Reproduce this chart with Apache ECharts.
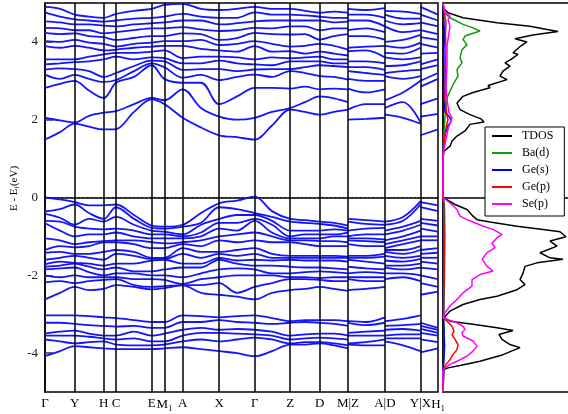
<!DOCTYPE html>
<html>
<head>
<meta charset="utf-8">
<script src="https://cdn.jsdelivr.net/npm/echarts@6/dist/echarts.min.js"></script>
<style>
  html, body { margin: 0; padding: 0; background: #fff; }
  #chart { width: 568px; height: 414px; }
</style>
</head>
<body>
<div id="chart"></div>
<script>
// k-path distance (arbitrary units), duplicated where the path breaks
const kDist = [0, 15, 29.7, 44, 58.7, 71, 89, 106.7, 119.4, 137.7, 156, 174.2, 192, 209.7, 227,
  245.2, 260, 274.7, 289, 303, 303, 321, 339.9, 339.9, 358, 375.5, 375.5, 393];
const segments = [[0, 19], [20, 22], [23, 25], [26, 27]];
const kTickPos = [0, 29.7, 58.7, 71, 106.7, 119.4, 137.7, 174.2, 209.7, 245.2, 274.7, 303, 339.9, 375.5, 393];
const kTickLabels = ['Γ', 'Y', 'H', 'C', 'E', 'M1', 'A', 'X', 'Γ', 'Z', 'D', 'M|Z', 'A|D', 'Y|X', 'H1'];
const eTicks = [-4, -2, 0, 2, 4];

// band energies (eV) at each k point, sorted
const condAtK = [
  [1.49, 2.05, 2.82, 3.16, 3.29, 3.42, 3.55, 3.89, 4.02, 4.23, 4.36, 4.53, 4.76, 4.90],
  [1.68, 1.98, 2.92, 3.05, 3.32, 3.45, 3.55, 3.85, 4.00, 4.20, 4.35, 4.50, 4.65, 4.85],
  [1.90, 1.93, 3.00, 3.15, 3.30, 3.48, 3.55, 3.90, 4.05, 4.22, 4.30, 4.45, 4.58, 4.70],
  [1.82, 2.10, 2.75, 3.05, 3.25, 3.50, 3.62, 3.85, 3.98, 4.15, 4.30, 4.45, 4.55, 4.65],
  [1.75, 2.18, 2.56, 2.97, 3.10, 3.55, 3.68, 3.78, 3.95, 4.12, 4.22, 4.42, 4.52, 4.62],
  [1.76, 2.22, 2.95, 3.02, 3.20, 3.62, 3.72, 3.80, 3.88, 4.05, 4.25, 4.40, 4.55, 4.72],
  [2.20, 2.40, 3.10, 3.25, 3.38, 3.55, 3.72, 3.85, 3.95, 4.10, 4.30, 4.45, 4.60, 4.80],
  [2.52, 2.56, 3.40, 3.45, 3.52, 3.60, 3.75, 3.88, 3.98, 4.15, 4.35, 4.48, 4.62, 4.85],
  [2.40, 2.50, 3.05, 3.35, 3.50, 3.58, 3.78, 3.90, 4.02, 4.15, 4.35, 4.50, 4.65, 4.95],
  [2.05, 2.78, 2.95, 3.08, 3.28, 3.45, 3.58, 3.90, 4.02, 4.22, 4.38, 4.55, 4.72, 4.98],
  [1.80, 2.30, 2.95, 3.15, 3.30, 3.45, 3.62, 3.82, 4.05, 4.20, 4.32, 4.55, 4.65, 4.85],
  [1.60, 2.08, 2.40, 3.02, 3.30, 3.52, 3.62, 3.78, 3.92, 4.05, 4.28, 4.45, 4.62, 4.82],
  [1.55, 2.00, 2.60, 3.10, 3.25, 3.45, 3.60, 3.75, 3.95, 4.10, 4.30, 4.48, 4.62, 4.85],
  [1.49, 2.05, 2.82, 3.16, 3.29, 3.42, 3.55, 3.89, 4.02, 4.23, 4.36, 4.53, 4.76, 4.90],
  [1.85, 2.20, 2.82, 3.10, 3.30, 3.40, 3.60, 3.75, 3.95, 4.20, 4.35, 4.55, 4.70, 4.85],
  [2.26, 2.30, 2.80, 3.25, 3.30, 3.50, 3.58, 3.76, 3.88, 4.19, 4.40, 4.55, 4.70, 4.85],
  [2.20, 2.45, 2.85, 3.20, 3.35, 3.50, 3.60, 3.70, 3.90, 4.20, 4.40, 4.55, 4.68, 4.80],
  [2.13, 2.60, 2.78, 3.12, 3.40, 3.50, 3.62, 3.75, 3.95, 4.06, 4.30, 4.55, 4.65, 4.75],
  [2.20, 2.55, 2.80, 3.10, 3.38, 3.45, 3.55, 3.70, 3.90, 4.15, 4.35, 4.50, 4.62, 4.78],
  [2.26, 2.45, 2.78, 3.03, 3.35, 3.45, 3.55, 3.65, 3.80, 4.20, 4.35, 4.52, 4.62, 4.75],
  [2.00, 2.26, 2.80, 3.05, 3.25, 3.35, 3.50, 3.76, 3.85, 4.15, 4.30, 4.55, 4.70, 4.85],
  [2.02, 2.40, 2.70, 3.00, 3.20, 3.35, 3.50, 3.78, 3.88, 4.15, 4.35, 4.55, 4.70, 4.82],
  [2.05, 2.40, 2.78, 3.00, 3.15, 3.28, 3.45, 3.60, 3.90, 4.06, 4.25, 4.40, 4.62, 4.87],
  [2.13, 2.30, 2.50, 3.12, 3.20, 3.38, 3.60, 3.72, 3.90, 4.00, 4.40, 4.55, 4.70, 4.80],
  [2.05, 2.45, 2.70, 3.05, 3.25, 3.40, 3.55, 3.70, 3.85, 4.05, 4.25, 4.45, 4.60, 4.78],
  [1.90, 1.93, 3.00, 3.12, 3.28, 3.50, 3.60, 3.85, 3.98, 4.18, 4.30, 4.48, 4.60, 4.72],
  [1.60, 2.08, 2.40, 2.85, 3.00, 3.30, 3.42, 3.70, 3.95, 4.12, 4.30, 4.50, 4.70, 4.90],
  [1.75, 2.15, 2.55, 3.05, 3.20, 3.40, 3.55, 3.72, 3.85, 4.05, 4.20, 4.40, 4.55, 4.70]
];
const valAtK = [
  [0.00, -0.36, -0.42, -0.60, -0.66, -1.05, -1.35, -1.42, -1.60, -1.72, -1.78, -1.85, -2.00, -2.18, -2.62],
  [-0.05, -0.30, -0.52, -0.62, -0.85, -1.10, -1.25, -1.40, -1.55, -1.65, -1.75, -1.82, -2.05, -2.15, -2.45],
  [-0.12, -0.18, -0.70, -0.75, -1.00, -1.20, -1.28, -1.45, -1.50, -1.68, -1.70, -1.80, -2.00, -2.20, -2.30],
  [-0.20, -0.40, -0.55, -0.80, -0.95, -1.15, -1.25, -1.45, -1.55, -1.70, -1.78, -1.92, -2.05, -2.15, -2.38],
  [-0.20, -0.55, -0.62, -0.82, -0.95, -1.12, -1.15, -1.40, -1.60, -1.75, -1.85, -2.00, -2.05, -2.12, -2.35],
  [-0.18, -0.25, -0.50, -0.80, -0.90, -1.10, -1.15, -1.35, -1.45, -1.70, -1.80, -1.95, -2.05, -2.10, -2.25],
  [-0.45, -0.55, -0.70, -0.85, -1.00, -1.10, -1.20, -1.40, -1.50, -1.70, -1.90, -1.95, -2.10, -2.25, -2.30],
  [-0.72, -0.78, -0.85, -0.95, -1.05, -1.15, -1.30, -1.55, -1.58, -1.62, -1.90, -2.00, -2.10, -2.30, -2.36],
  [-0.75, -0.80, -0.88, -0.95, -1.05, -1.18, -1.30, -1.55, -1.58, -1.60, -1.85, -2.00, -2.12, -2.28, -2.33],
  [-0.70, -0.75, -0.95, -1.00, -1.05, -1.15, -1.20, -1.30, -1.45, -1.70, -1.80, -2.05, -2.22, -2.25, -2.26],
  [-0.40, -0.65, -0.70, -0.90, -1.00, -1.10, -1.25, -1.40, -1.55, -1.70, -1.80, -1.95, -2.10, -2.25, -2.45],
  [-0.15, -0.25, -0.55, -0.65, -0.80, -1.00, -1.10, -1.40, -1.45, -1.55, -1.60, -1.85, -2.05, -2.20, -2.50],
  [-0.08, -0.30, -0.45, -0.65, -0.85, -0.95, -1.15, -1.35, -1.50, -1.62, -1.70, -1.82, -2.00, -2.45, -2.55],
  [0.02, -0.40, -0.45, -0.55, -0.60, -0.90, -1.10, -1.30, -1.45, -1.60, -1.75, -1.85, -2.00, -2.30, -2.62],
  [-0.35, -0.50, -0.60, -0.70, -0.90, -1.00, -1.15, -1.45, -1.55, -1.62, -1.75, -1.95, -2.00, -2.20, -2.45],
  [-0.55, -0.62, -0.85, -1.00, -1.05, -1.10, -1.15, -1.50, -1.55, -1.60, -1.78, -1.95, -2.05, -2.10, -2.38],
  [-0.58, -0.65, -0.85, -0.95, -1.05, -1.10, -1.20, -1.50, -1.55, -1.62, -1.80, -1.92, -2.05, -2.10, -2.35],
  [-0.62, -0.68, -0.85, -0.95, -1.05, -1.12, -1.25, -1.50, -1.55, -1.62, -1.80, -1.90, -2.07, -2.12, -2.30],
  [-0.65, -0.72, -0.82, -0.95, -1.00, -1.12, -1.25, -1.50, -1.55, -1.62, -1.82, -1.92, -2.05, -2.15, -2.35],
  [-0.72, -0.80, -0.85, -0.90, -1.00, -1.15, -1.25, -1.52, -1.55, -1.65, -1.85, -1.95, -2.05, -2.15, -2.40],
  [-0.55, -0.62, -0.85, -1.00, -1.05, -1.10, -1.20, -1.50, -1.55, -1.60, -1.78, -1.95, -2.05, -2.10, -2.38],
  [-0.58, -0.68, -0.80, -0.95, -1.05, -1.12, -1.25, -1.50, -1.55, -1.65, -1.82, -1.92, -2.05, -2.15, -2.35],
  [-0.62, -0.70, -0.78, -0.95, -1.08, -1.15, -1.25, -1.45, -1.52, -1.70, -1.85, -1.95, -2.05, -2.15, -2.30],
  [-0.62, -0.70, -0.85, -0.95, -1.10, -1.20, -1.30, -1.35, -1.40, -1.50, -1.62, -1.75, -1.80, -1.95, -2.10],
  [-0.50, -0.60, -0.75, -0.85, -1.00, -1.10, -1.20, -1.35, -1.45, -1.55, -1.65, -1.75, -1.85, -1.95, -2.05],
  [-0.10, -0.18, -0.60, -0.70, -0.85, -1.00, -1.10, -1.25, -1.35, -1.50, -1.58, -1.70, -1.80, -2.00, -2.15],
  [-0.12, -0.25, -0.55, -0.65, -0.80, -1.00, -1.10, -1.35, -1.45, -1.55, -1.65, -1.80, -2.00, -2.20, -2.50],
  [-0.20, -0.35, -0.60, -0.72, -0.88, -1.00, -1.10, -1.30, -1.42, -1.55, -1.70, -1.85, -2.10, -2.30, -2.42]
];
const coreAtK = [
  [-3.03, -3.22, -3.50, -3.55, -3.65, -4.08],
  [-3.03, -3.22, -3.45, -3.55, -3.70, -3.95],
  [-3.03, -3.25, -3.42, -3.55, -3.75, -3.82],
  [-3.05, -3.28, -3.50, -3.58, -3.72, -3.85],
  [-3.08, -3.30, -3.55, -3.62, -3.70, -3.88],
  [-3.10, -3.32, -3.55, -3.65, -3.78, -3.90],
  [-3.15, -3.30, -3.45, -3.62, -3.80, -3.90],
  [-3.20, -3.35, -3.55, -3.70, -3.80, -3.90],
  [-3.20, -3.35, -3.50, -3.70, -3.78, -3.88],
  [-3.03, -3.20, -3.40, -3.55, -3.70, -3.85],
  [-3.05, -3.20, -3.35, -3.48, -3.65, -3.90],
  [-3.08, -3.15, -3.40, -3.48, -3.70, -3.95],
  [-3.05, -3.20, -3.38, -3.50, -3.65, -4.00],
  [-3.03, -3.22, -3.40, -3.52, -3.60, -4.08],
  [-3.10, -3.25, -3.45, -3.55, -3.65, -3.95],
  [-3.18, -3.22, -3.55, -3.65, -3.75, -3.78],
  [-3.15, -3.20, -3.52, -3.62, -3.72, -3.78],
  [-3.15, -3.22, -3.50, -3.60, -3.72, -3.75],
  [-3.15, -3.25, -3.50, -3.62, -3.75, -3.80],
  [-3.18, -3.30, -3.55, -3.65, -3.80, -3.88],
  [-3.18, -3.22, -3.48, -3.55, -3.75, -3.78],
  [-3.20, -3.28, -3.45, -3.55, -3.72, -3.80],
  [-3.08, -3.22, -3.42, -3.55, -3.65, -3.80],
  [-3.18, -3.30, -3.40, -3.55, -3.62, -3.70],
  [-3.12, -3.28, -3.38, -3.52, -3.62, -3.80],
  [-3.03, -3.25, -3.42, -3.52, -3.62, -3.95],
  [-3.22, -3.30, -3.38, -3.48, -3.65, -3.98],
  [-3.35, -3.40, -3.48, -3.55, -3.72, -3.88]
];

// density of states, [energy eV, DOS arb. units]
const tdos = [[5.0, 0], [4.85, 1], [4.75, 5], [4.62, 20], [4.49, 54], [4.40, 87], [4.34, 100], [4.27, 115],
  [4.18, 90], [4.08, 72], [4.00, 84], [3.90, 78], [3.72, 70], [3.68, 75], [3.55, 68], [3.46, 62], [3.38, 67],
  [3.25, 60], [3.12, 57], [3.03, 64], [2.88, 45], [2.82, 47], [2.70, 30], [2.60, 20], [2.43, 14], [2.26, 17],
  [2.13, 27], [2.02, 38], [1.94, 41], [1.88, 27], [1.71, 22], [1.58, 14], [1.45, 9], [1.32, 7], [1.19, 1],
  [1.0, 0], [0.0, 0], [-0.05, 1], [-0.18, 12], [-0.31, 24], [-0.48, 30], [-0.57, 34], [-0.63, 47], [-0.74, 74],
  [-0.82, 100], [-0.88, 117], [-1.01, 123], [-1.12, 107], [-1.25, 114], [-1.42, 97], [-1.55, 107], [-1.59, 120],
  [-1.68, 94], [-1.77, 82], [-1.95, 80], [-2.11, 77], [-2.24, 82], [-2.37, 74], [-2.54, 54], [-2.62, 37],
  [-2.75, 20], [-2.92, 7], [-3.09, 1], [-3.18, 7], [-3.26, 30], [-3.35, 54], [-3.42, 70], [-3.52, 56],
  [-3.65, 59], [-3.78, 67], [-3.86, 77], [-4.04, 60], [-4.21, 37], [-4.32, 17], [-4.38, 5], [-4.42, 1], [-5.0, 0]];
const baD = [[5.0, 0], [4.75, 1], [4.62, 7], [4.45, 20], [4.36, 30], [4.28, 37], [4.15, 22], [4.06, 20],
  [3.93, 24], [3.80, 19], [3.59, 17], [3.46, 19], [3.29, 14], [3.12, 15], [2.90, 10], [2.73, 7], [2.56, 4],
  [2.35, 3], [2.09, 2], [1.66, 1], [1.23, 0], [0.0, 0], [-0.2, 1.5], [-1.0, 2], [-2.0, 1.5], [-2.8, 1],
  [-3.05, 0.3], [-3.2, 1], [-3.8, 1.5], [-4.3, 0.5], [-4.45, 0], [-5.0, 0]];
const geS = [[5.0, 0], [4.8, 0.5], [4.5, 1], [4.2, 1.5], [3.8, 1], [3.2, 1], [2.6, 1], [2.2, 2], [2.05, 7],
  [1.95, 8], [1.85, 5], [1.6, 2], [1.3, 0.5], [1.1, 0], [0.0, 0], [-0.1, 0.5], [-1.0, 0.5], [-2.9, 0.5],
  [-3.1, 0.3], [-3.4, 1], [-3.9, 1.5], [-4.3, 0.5], [-4.45, 0], [-5.0, 0]];
const geP = [[5.0, 0], [4.8, 1], [4.5, 3], [4.2, 2.5], [3.8, 3], [3.4, 2.5], [3.0, 2.5], [2.5, 2], [2.1, 4],
  [2.0, 5], [1.8, 3], [1.5, 1.5], [1.2, 0.3], [1.1, 0], [0.0, 0], [-0.1, 0.5], [-1.0, 1], [-2.0, 1],
  [-2.9, 0.5], [-3.1, 0.5], [-3.18, 4], [-3.31, 9], [-3.44, 11], [-3.52, 9], [-3.65, 12], [-3.78, 15],
  [-3.91, 14], [-4.04, 10], [-4.17, 7], [-4.29, 3], [-4.38, 1], [-4.45, 0], [-5.0, 0]];
const seP = [[5.0, 0], [4.75, 2], [4.66, 7], [4.58, 5], [4.40, 7], [4.23, 6], [3.89, 4], [3.38, 4], [2.86, 3],
  [2.52, 4], [2.18, 6], [2.05, 9], [1.92, 7], [1.75, 5], [1.49, 3], [1.23, 1], [1.1, 0], [0.0, 0],
  [-0.03, 1], [-0.14, 7], [-0.31, 14], [-0.48, 17], [-0.57, 24], [-0.63, 30], [-0.74, 40], [-0.82, 50],
  [-0.95, 59], [-1.04, 54], [-1.17, 49], [-1.29, 52], [-1.42, 44], [-1.59, 39], [-1.77, 44], [-1.89, 50],
  [-1.98, 37], [-2.11, 29], [-2.28, 29], [-2.45, 20], [-2.62, 14], [-2.79, 7], [-2.96, 2], [-3.09, 0.5],
  [-3.14, 5], [-3.22, 14], [-3.31, 20], [-3.39, 22], [-3.48, 19], [-3.56, 20], [-3.69, 30], [-3.82, 34],
  [-3.95, 30], [-4.08, 24], [-4.21, 14], [-4.29, 7], [-4.38, 2], [-4.45, 0], [-5.0, 0]];
const dosNames = ['TDOS', 'Ba(d)', 'Ge(s)', 'Ge(p)', 'Se(p)'];
const dosColors = ['#000000', '#109a10', '#0000ff', '#ff0000', '#ff00ff'];

const serif = 'Liberation Serif';
const chart = echarts.init(document.getElementById('chart'));

function bandSeries(cols) {
  const out = [];
  for (let b = 0; b < cols[0].length; b++) {
    for (const [s, e] of segments) {
      const data = [];
      for (let j = s; j <= e; j++) data.push([kDist[j], cols[j][b]]);
      out.push({
        type: 'line', xAxisIndex: 0, yAxisIndex: 0, data: data,
        smooth: 0.35, symbol: 'none', silent: true,
        lineStyle: { color: '#1414ff', width: 1.8 }
      });
    }
  }
  return out;
}

function kLabel(v) {
  const i = kTickPos.findIndex(p => Math.abs(p - v) < 0.01);
  if (i < 0) return '';
  const t = kTickLabels[i];
  if (t === 'M1') return '{n|M}{s|1}';
  if (t === 'H1') return '{n|H}{s|1}';
  return '{n|' + t + '}';
}

const series = [].concat(bandSeries(condAtK), bandSeries(valAtK), bandSeries(coreAtK));

// high-symmetry lines and Fermi level
series.push({
  type: 'line', xAxisIndex: 0, yAxisIndex: 0, data: [], silent: true,
  markLine: {
    symbol: ['none', 'none'], silent: true, animation: false,
    label: { show: false },
    data: kTickPos.slice(1, -1).map(v => ({ xAxis: v, lineStyle: { color: '#000', width: 1.5, type: 'solid' } }))
      .concat([{ yAxis: 0, lineStyle: { color: '#000', width: 1.2, type: [1.2, 3] } }])
  }
});

[tdos, baD, geS, geP, seP].forEach((d, i) => {
  series.push({
    name: dosNames[i], type: 'line', xAxisIndex: 1, yAxisIndex: 1,
    data: d.map(p => [p[1], p[0]]), symbol: 'none', silent: true,
    lineStyle: { color: dosColors[i], width: 1.5 }, itemStyle: { color: dosColors[i] }
  });
});

chart.setOption({
  animation: false,
  backgroundColor: '#fff',
  grid: [
    { left: 45, top: 3, width: 393, height: 389, outerBoundsMode: 'none',
      show: true, borderColor: '#000', borderWidth: 1.5 },
    { left: 443, top: 3, width: 127, height: 389, outerBoundsMode: 'none',
      show: true, borderColor: '#000', borderWidth: 1.5 }
  ],
  xAxis: [
    {
      type: 'value', gridIndex: 0, min: 0, max: 393,
      axisLine: { lineStyle: { color: '#000', width: 1.5 } },
      axisTick: { show: false },
      splitLine: { show: false },
      axisLabel: {
        customValues: kTickPos, margin: 5, formatter: kLabel,
        rich: {
          n: { fontFamily: serif, fontSize: 13, color: '#000' },
          s: { fontFamily: serif, fontSize: 8, color: '#000', padding: [8, 0, 0, 0] }
        }
      }
    },
    {
      type: 'value', gridIndex: 1, min: 0, max: 127,
      axisLine: { lineStyle: { color: '#000', width: 1.5 } },
      axisTick: { show: false }, axisLabel: { show: false }, splitLine: { show: false }
    }
  ],
  yAxis: [
    {
      type: 'value', gridIndex: 0, min: -5, max: 5,
      axisLine: { lineStyle: { color: '#000', width: 1.5 } },
      axisTick: { inside: true, length: 8, customValues: eTicks, lineStyle: { color: '#333', width: 1.5 } },
      axisLabel: { customValues: eTicks, margin: 7, fontFamily: serif, fontSize: 13, color: '#222' },
      splitLine: { show: false },
      name: '{n|E - E}{s|f}{n|(eV)}', nameLocation: 'middle', nameRotate: 90, nameGap: 24,
      nameMoveOverlap: false,
      nameTextStyle: {
        padding: [0, 0, 0, 18],
        rich: {
          n: { fontFamily: serif, fontSize: 11, color: '#000' },
          s: { fontFamily: serif, fontSize: 7, color: '#000', padding: [6, 0, 0, 0] }
        }
      }
    },
    {
      type: 'value', gridIndex: 1, min: -5, max: 5,
      axisLine: { lineStyle: { color: '#000', width: 1.5 } },
      axisTick: { show: false }, axisLabel: { show: false }, splitLine: { show: false }
    }
  ],
  legend: {
    data: dosNames, orient: 'vertical', left: 485, top: 127,
    icon: 'rect', itemWidth: 20, itemHeight: 2, itemGap: 5,
    padding: [3, 11, 6, 7],
    borderColor: '#000', borderWidth: 1, backgroundColor: '#fff',
    textStyle: { fontFamily: serif, fontSize: 12, color: '#000', padding: [0, 0, 0, 5] },
    selectedMode: false
  },
  series: series
});
</script>
</body>
</html>
